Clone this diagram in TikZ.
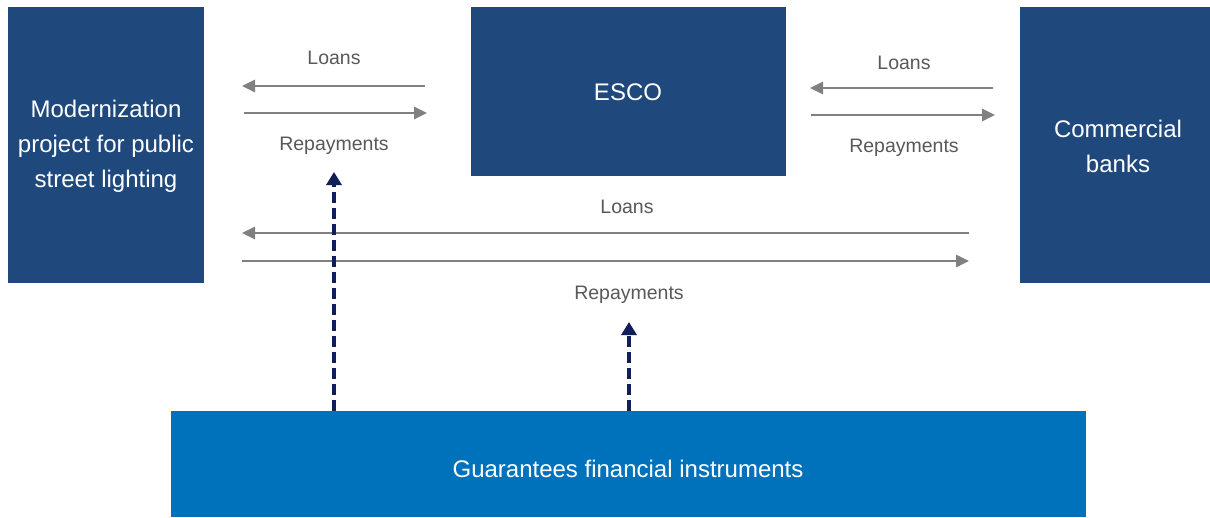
\documentclass[tikz,border=0pt]{standalone}
\usepackage{fontspec}
\setmainfont{Liberation Sans}
\usetikzlibrary{arrows.meta}
\definecolor{darkbox}{HTML}{1F497D}
\definecolor{lightbox}{HTML}{0072BC}
\definecolor{flowgray}{HTML}{808080}
\definecolor{labelgray}{HTML}{595959}
\definecolor{navy}{HTML}{0F1F5A}
\begin{document}
\begin{tikzpicture}[x=1pt,y=-1pt,
  boxtext/.style={text=white, font=\fontsize{24}{35}\selectfont, align=center, inner sep=0pt},
  flow/.style={draw=flowgray, line width=2.6pt, -{Triangle[length=13pt,width=12pt]}},
  lbl/.style={text=labelgray, font=\fontsize{19.5}{23}\selectfont, inner sep=0pt},
  guar/.style={draw=navy, line width=3.5pt, dash pattern=on 11pt off 5pt, -{Triangle[length=13pt,width=15pt]}}]
\useasboundingbox (0,0) rectangle (1210,517);
\fill[white] (0,0) rectangle (1210,517);
% boxes
\fill[darkbox] (8,7) rectangle (204,283);
\node[boxtext] (mod) at (106,146) {Modernization\\project for public\\street lighting};
\fill[darkbox] (471,7) rectangle (786,176);
\node[boxtext] (esco) at (628,92) {ESCO};
\fill[darkbox] (1020,7) rectangle (1210,283);
\node[boxtext] (bank) at (1118,146) {Commercial\\banks};
\fill[lightbox] (171,411) rectangle (1086,517);
\node[boxtext] (guar) at (628,469) {Guarantees financial instruments};
% coordinates
\coordinate (a1s) at (425,86); \coordinate (a1e) at (242,86);
\coordinate (a2s) at (244,113); \coordinate (a2e) at (427,113);
\coordinate (b1s) at (993,88); \coordinate (b1e) at (810,88);
\coordinate (b2s) at (811,115); \coordinate (b2e) at (995,115);
\coordinate (c1s) at (969,233); \coordinate (c1e) at (242,233);
\coordinate (c2s) at (242,261); \coordinate (c2e) at (969,261);
\coordinate (d1s) at (334,411); \coordinate (d1e) at (334,172);
\coordinate (d2s) at (629,411); \coordinate (d2e) at (629,322);
% flows
\draw[flow] (a1s) -- (a1e);
\draw[flow] (a2s) -- (a2e);
\draw[flow] (b1s) -- (b1e);
\draw[flow] (b2s) -- (b2e);
\draw[flow] (c1s) -- (c1e);
\draw[flow] (c2s) -- (c2e);
\draw[guar] (d1s) -- (d1e);
\draw[guar] (d2s) -- (d2e);
% labels
\node[lbl] (l1) at (334,58) {Loans};
\node[lbl] (r1) at (334,146) {Repayments};
\node[lbl] (l2) at (904,63) {Loans};
\node[lbl] (r2) at (904,148) {Repayments};
\node[lbl] (l3) at (627,207) {Loans};
\node[lbl] (r3) at (629,295) {Repayments};
\end{tikzpicture}
\end{document}
